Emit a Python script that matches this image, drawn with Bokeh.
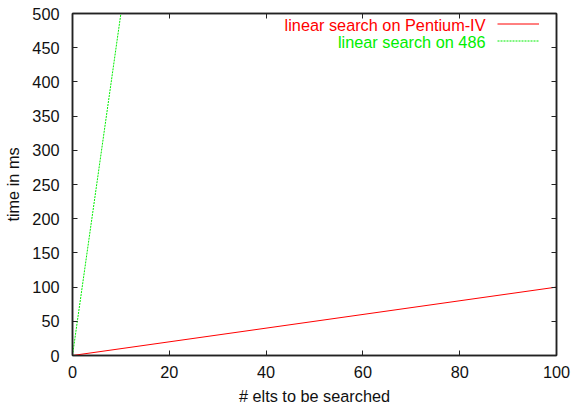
from bokeh.plotting import figure
from bokeh.models import (Range1d, LinearAxis, SingleIntervalTicker, Legend,
                          LegendItem, Label)
from bokeh.embed import file_html
from bokeh.resources import INLINE

# number of elements searched and the measured time for each machine
elements = [0, 100]
pentium_ms = [0, 100]
i486_ms = [0, 5000]

series_labels = ["linear search on Pentium-IV", "linear search on 486"]
x_title = "# elts to be searched"
y_title = "time in ms"

FONT = "Liberation Sans"
FS = "16.3px"

p = figure(width=573, height=411, frame_width=484, frame_height=342,
           min_border_left=72, min_border_right=17, min_border_top=13,
           min_border_bottom=56, output_backend="svg", toolbar_location=None,
           x_range=Range1d(0, 100), y_range=Range1d(0, 500))
p.xgrid.visible = False
p.ygrid.visible = False
p.outline_line_color = "#222222"
p.outline_line_width = 1.5
p.background_fill_color = "white"
p.border_fill_color = "white"

r_pent = p.line(elements, pentium_ms, line_color="#ff0000", line_width=1)
r_486 = p.line(elements, i486_ms, line_color="#00ee00", line_width=1,
               line_dash="2 1")

def style_axis(ax, interval):
    ax.ticker = SingleIntervalTicker(interval=interval)
    ax.minor_tick_line_color = None
    ax.major_tick_in = 5
    ax.major_tick_out = 0
    ax.axis_line_color = "#222222"
    ax.axis_line_width = 1.5
    ax.major_tick_line_color = "#222222"
    ax.major_label_text_font = FONT
    ax.major_label_text_font_size = FS
    ax.major_label_text_color = "#111111"
    ax.axis_label_text_font = FONT
    ax.axis_label_text_font_size = FS
    ax.axis_label_text_font_style = "normal"
    ax.axis_label_text_color = "#111111"

style_axis(p.xaxis[0], 20)
style_axis(p.yaxis[0], 50)
p.xaxis[0].axis_label = x_title
p.xaxis[0].major_label_standoff = 6
p.xaxis[0].axis_label_standoff = 6
p.yaxis[0].axis_label = y_title
p.yaxis[0].major_label_standoff = 9
p.yaxis[0].axis_label_standoff = 7

# mirrored tick marks on the top and right edges
for loc, interval in (("above", 20), ("right", 50)):
    ax = LinearAxis()
    style_axis(ax, interval)
    ax.major_label_text_font_size = "1px"
    ax.major_label_text_alpha = 0
    ax.major_label_standoff = 0
    p.add_layout(ax, loc)

# key: text right-aligned, line sample to the right
legend = Legend(items=[LegendItem(label="", renderers=[r_pent]),
                       LegendItem(label="", renderers=[r_486])],
                location=(425, 306), orientation="vertical",
                glyph_width=42, glyph_height=17, label_width=0,
                label_standoff=0, label_height=17, padding=0, margin=0,
                spacing=0, border_line_color=None, background_fill_alpha=0)
p.add_layout(legend, "center")

for txt, col, y in ((series_labels[0], "#ff0000", 331),
                    (series_labels[1], "#00ee00", 314)):
    p.add_layout(Label(x=413, y=y, x_units="screen", y_units="screen",
                       text=txt, text_color=col, text_font=FONT,
                       text_font_size=FS, text_align="right",
                       text_baseline="middle"))

open("out.html", "w").write(file_html(p, INLINE))
